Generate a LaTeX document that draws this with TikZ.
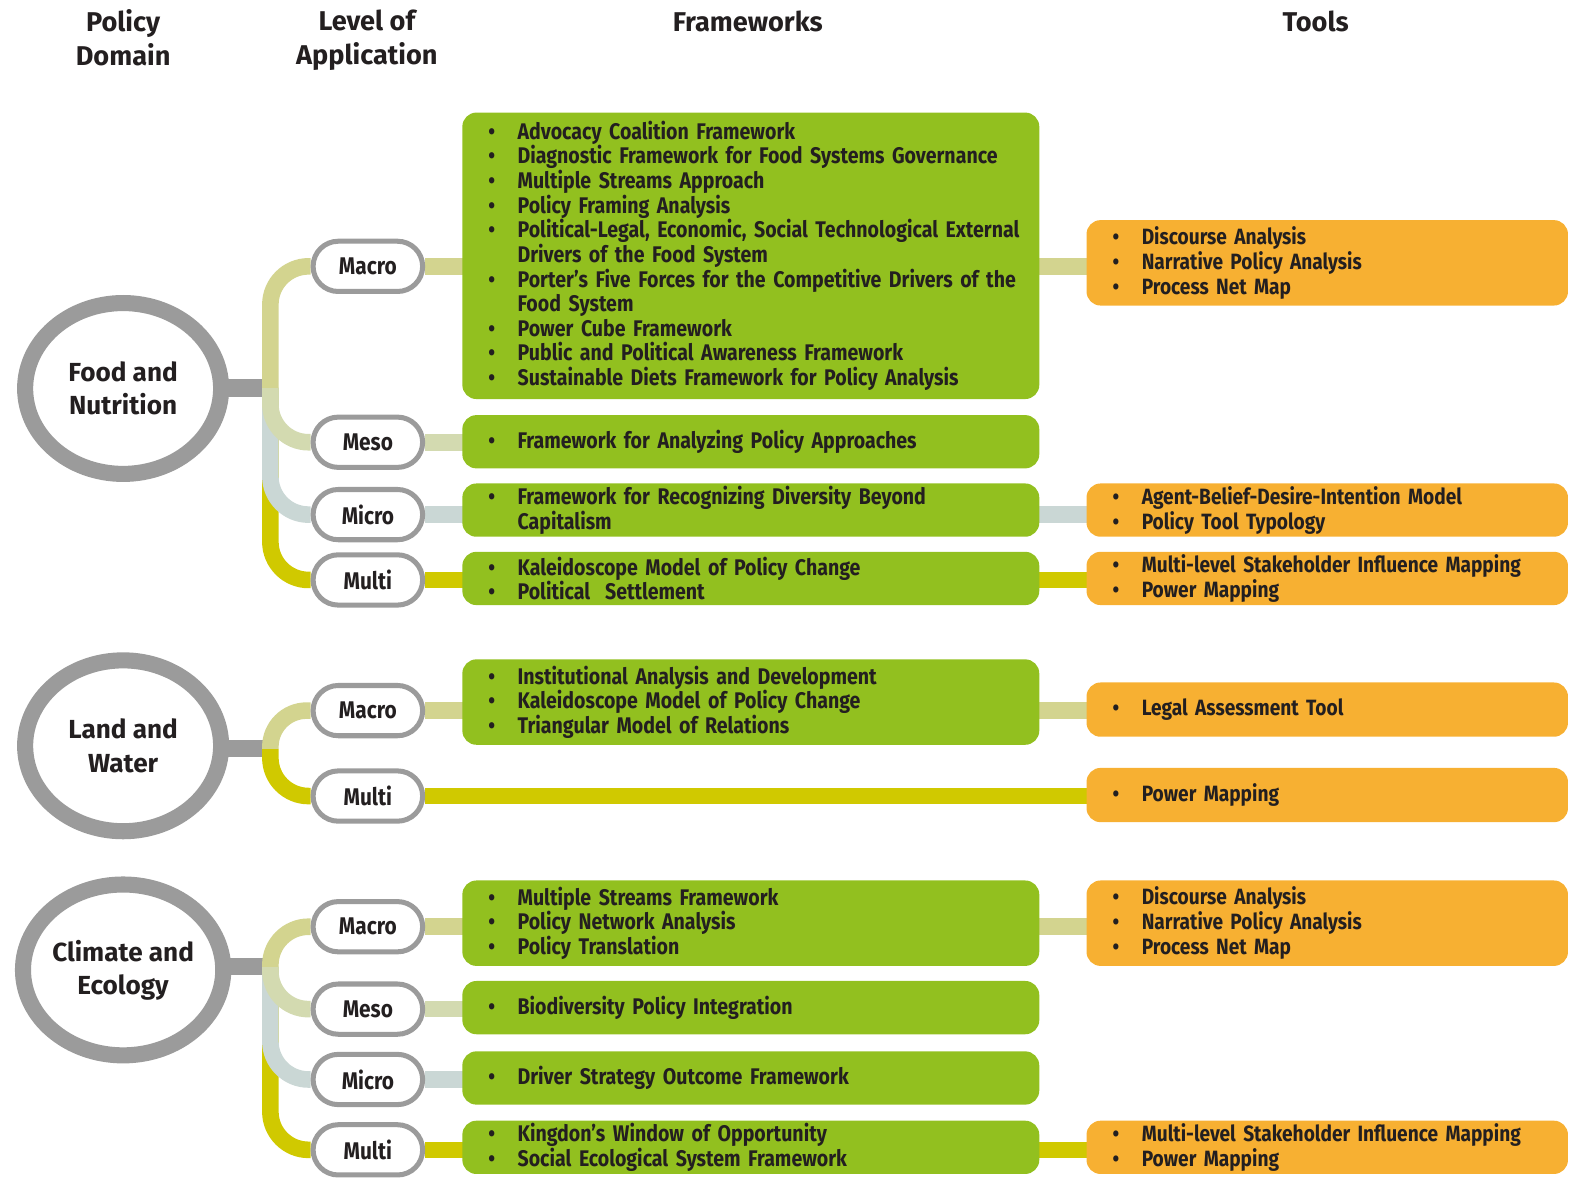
\documentclass[tikz,border=0pt]{standalone}
\usepackage{fontspec}
\setmainfont{Fira Sans}
\newfontfamily\fwfont[FakeStretch=0.865]{Fira Sans}
\newfontfamily\tlfont[FakeStretch=0.865]{Fira Sans}
\usetikzlibrary{shapes.geometric,backgrounds}

\definecolor{ringgray}{HTML}{9B9B9B}
\definecolor{fwgreen}{HTML}{92C01F}
\definecolor{tlorange}{HTML}{F7B032}
\definecolor{ink}{HTML}{231F20}
\definecolor{cMacro}{HTML}{D3D48F}
\definecolor{cMeso}{HTML}{D3DAB0}
\definecolor{cMicro}{HTML}{CAD7D5}
\definecolor{cMulti}{HTML}{D0C900}

% bullet line and hanging continuation line, never wrapped
\newcommand\bitem[1]{\makebox[29pt][l]{\textbullet}\rlap{#1}}
\newcommand\bcont[1]{\hspace*{29pt}\rlap{#1}}

\tikzset{
  hdrtext/.style={font=\fontsize{27}{33}\selectfont\bfseries, align=center, text=ink},
  domring/.style={ellipse, draw=ringgray, line width=16pt, fill=white,
    minimum width=195pt, minimum height=170pt, inner sep=0pt,
    font=\fontsize{26}{33}\selectfont\bfseries, align=center, text=ink},
  lvlpill/.style={rectangle, rounded corners=25pt, draw=ringgray, line width=5pt,
    fill=white, minimum width=109pt, minimum height=50pt, inner sep=0pt,
    font=\fwfont\fontsize{24}{26}\selectfont\bfseries, text=ink},
  fwpanel/.style={rectangle, rounded corners=14pt, fill=fwgreen,
    inner xsep=26pt, inner ysep=0pt, text width=522pt, align=left,
    font=\fwfont\fontsize{22.5}{24.5}\selectfont\bfseries, text=ink},
  tlpanel/.style={rectangle, rounded corners=14pt, fill=tlorange,
    inner xsep=26pt, inner ysep=0pt, text width=427pt, align=left,
    font=\tlfont\fontsize{22}{25}\selectfont\bfseries, text=ink},
  linkline/.style={line width=16.5pt},
  stubline/.style={line width=17pt, draw=ringgray},
  branchline/.style={line width=16.5pt, rounded corners=38pt},
}

\begin{document}
\begin{tikzpicture}[x=1pt,y=-1pt]
\useasboundingbox (0,0) rectangle (1568,1172);

% column headings
\node[hdrtext] (hDomain) at (122.5,37.5) {Policy\\Domain};
\node[hdrtext] (hLevel)  at (365,40)     {Level of\\Application};
\node[hdrtext] (hFw)     at (744,21)     {Frameworks};
\node[hdrtext] (hTools)  at (1309,21)    {Tools};

% ---------------- Food and Nutrition ----------------
\node[domring] (fn) at (122.5,386.5) {Food and\\Nutrition};
\coordinate (fnj) at (269,386);
\node[lvlpill] (fnMa) at (366,265) {Macro};
\node[lvlpill] (fnMe) at (366,440) {Meso};
\node[lvlpill] (fnMi) at (366,512) {Micro};
\node[lvlpill] (fnMu) at (366,577) {Multi};

\node[fwpanel, minimum height=285pt] (fnMaF) at (747,254.5) {%
\bitem{Advocacy Coalition Framework}\\
\bitem{Diagnostic Framework for Food Systems Governance}\\
\bitem{Multiple Streams Approach}\\
\bitem{Policy Framing Analysis}\\
\bitem{Political-Legal, Economic, Social Technological External}\\
\bcont{Drivers of the Food System}\\
\bitem{Porter’s Five Forces for the Competitive Drivers of the}\\
\bcont{Food System}\\
\bitem{Power Cube Framework}\\
\bitem{Public and Political Awareness Framework}\\
\bitem{Sustainable Diets Framework for Policy Analysis}};
\node[fwpanel, minimum height=53pt] (fnMeF) at (747,439.5) {\bitem{Framework for Analyzing Policy Approaches}};
\node[fwpanel, minimum height=53pt] (fnMiF) at (747,507.5) {%
\bitem{Framework for Recognizing Diversity Beyond}\\
\bcont{Capitalism}};
\node[fwpanel, minimum height=53pt] (fnMuF) at (747,575.5) {%
\bitem{Kaleidoscope Model of Policy Change}\\
\bitem{Political\ \ Settlement}};

\node[tlpanel, minimum height=85pt] (fnMaT) at (1320.5,261.5) {%
\bitem{Discourse Analysis}\\
\bitem{Narrative Policy Analysis}\\
\bitem{Process Net Map}};
\node[tlpanel, minimum height=53pt] (fnMiT) at (1320.5,507.5) {%
\bitem{Agent-Belief-Desire-Intention Model}\\
\bitem{Policy Tool Typology}};
\node[tlpanel, minimum height=53pt] (fnMuT) at (1320.5,575.5) {%
\bitem{Multi-level Stakeholder Influence Mapping}\\
\bitem{Power Mapping}};

% ---------------- Land and Water ----------------
\node[domring] (lw) at (122.5,742) {Land and\\Water};
\coordinate (lwj) at (269,745);
\node[lvlpill] (lwMa) at (366,707) {Macro};
\node[lvlpill] (lwMu) at (366,792) {Multi};

\node[fwpanel, minimum height=85pt] (lwMaF) at (747,698.5) {%
\bitem{Institutional Analysis and Development}\\
\bitem{Kaleidoscope Model of Policy Change}\\
\bitem{Triangular Model of Relations}};
\node[tlpanel, minimum height=54pt] (lwMaT) at (1320.5,706) {\bitem{Legal Assessment Tool}};
\node[tlpanel, minimum height=54pt] (lwMuT) at (1320.5,791) {\bitem{Power Mapping}};

% ---------------- Climate and Ecology ----------------
\node[domring] (ce) at (122.5,965) {Climate and\\Ecology};
\coordinate (cej) at (269,962);
\node[lvlpill] (ceMa) at (366,922)  {Macro};
\node[lvlpill] (ceMe) at (366,1004) {Meso};
\node[lvlpill] (ceMi) at (366,1074) {Micro};
\node[lvlpill] (ceMu) at (366,1144) {Multi};

\node[fwpanel, minimum height=85pt] (ceMaF) at (747,918.5) {%
\bitem{Multiple Streams Framework}\\
\bitem{Policy Network Analysis}\\
\bitem{Policy Translation}};
\node[fwpanel, minimum height=53pt] (ceMeF) at (747,1002.5) {\bitem{Biodiversity Policy Integration}};
\node[fwpanel, minimum height=53pt] (ceMiF) at (747,1072.5) {\bitem{Driver Strategy Outcome Framework}};
\node[fwpanel, minimum height=53pt] (ceMuF) at (747,1141.5) {%
\bitem{Kingdon’s Window of Opportunity}\\
\bitem{Social Ecological System Framework}};

\node[tlpanel, minimum height=85pt] (ceMaT) at (1320.5,918.5) {%
\bitem{Discourse Analysis}\\
\bitem{Narrative Policy Analysis}\\
\bitem{Process Net Map}};
\node[tlpanel, minimum height=53pt] (ceMuT) at (1320.5,1141.5) {%
\bitem{Multi-level Stakeholder Influence Mapping}\\
\bitem{Power Mapping}};

% ---------------- connectors, behind all boxes ----------------
\begin{scope}[on background layer]
  % horizontal stubs from the domain rings
  \draw[stubline] ([xshift=-6pt]fnj -| fn.east) -- (fnj);
  \draw[stubline] ([xshift=-6pt]lwj -| lw.east) -- (lwj);
  \draw[stubline] ([xshift=-6pt]cej -| ce.east) -- (cej);

  % spines: lowest branch first so upper ones lie on top
  \draw[branchline, cMulti] (fnj) |- (fnMu.west);
  \draw[branchline, cMicro] (fnj) |- (fnMi.west);
  \draw[branchline, cMeso]  (fnj) |- (fnMe.west);
  \draw[branchline, cMacro] (fnj) |- (fnMa.west);

  \draw[branchline, cMulti] (lwj) |- (lwMu.west);
  \draw[branchline, cMacro, rounded corners=36pt] (lwj) |- (lwMa.west);

  \draw[branchline, cMulti] (cej) |- (ceMu.west);
  \draw[branchline, cMicro] (cej) |- (ceMi.west);
  \draw[branchline, cMeso]  (cej) |- (ceMe.west);
  \draw[branchline, cMacro] (cej) |- (ceMa.west);

  % level to framework to tool
  \draw[linkline, cMacro] (fnMa.east) -- ([xshift=6pt]fnMaT.west |- fnMa.east);
  \draw[linkline, cMeso]  (fnMe.east) -- ([xshift=6pt]fnMeF.west |- fnMe.east);
  \draw[linkline, cMicro] (fnMi.east) -- ([xshift=6pt]fnMiT.west |- fnMi.east);
  \draw[linkline, cMulti] (fnMu.east) -- ([xshift=6pt]fnMuT.west |- fnMu.east);

  \draw[linkline, cMacro] (lwMa.east) -- ([xshift=6pt]lwMaT.west |- lwMa.east);
  \draw[linkline, cMulti] (lwMu.east) -- ([xshift=6pt]lwMuT.west |- lwMu.east);

  \draw[linkline, cMacro] (ceMa.east) -- ([xshift=6pt]ceMaT.west |- ceMa.east);
  \draw[linkline, cMeso]  (ceMe.east) -- ([xshift=6pt]ceMeF.west |- ceMe.east);
  \draw[linkline, cMicro] (ceMi.east) -- ([xshift=6pt]ceMiF.west |- ceMi.east);
  \draw[linkline, cMulti] (ceMu.east) -- ([xshift=6pt]ceMuT.west |- ceMu.east);
\end{scope}
\end{tikzpicture}
\end{document}
